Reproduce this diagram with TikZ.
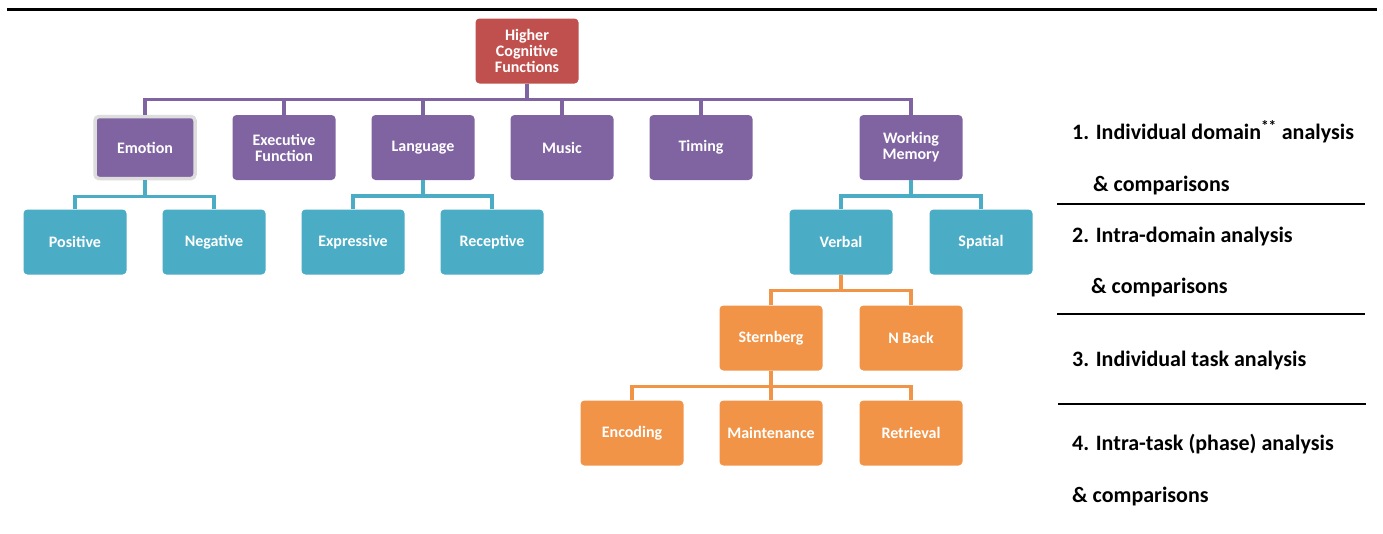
\documentclass[tikz,border=0pt]{standalone}
\usepackage{fontspec}
\setmainfont{Carlito}
\begin{document}
\begin{tikzpicture}[x=1pt,y=-1pt,
  box/.style={rounded corners=4pt, minimum width=103pt, minimum height=65pt, inner sep=2pt,
    text=white, font=\fontsize{16}{16}\selectfont\bfseries, align=center},
  rootbox/.style={box, fill=rootred},
  pbox/.style={box, fill=purp},
  tbox/.style={box, fill=teal2},
  obox/.style={box, fill=orng},
  pline/.style={draw=purp, line width=3.5pt},
  tline/.style={draw=teal2, line width=3.5pt},
  oline/.style={draw=orng, line width=3.5pt},
  rtext/.style={anchor=base west, font=\fontsize{22}{24}\selectfont\bfseries, inner sep=0pt},
  sep/.style={draw=black, line width=1.2pt}
]
\definecolor{rootred}{HTML}{C0504D}
\definecolor{purp}{HTML}{8064A2}
\definecolor{teal2}{HTML}{4BACC6}
\definecolor{orng}{HTML}{F29447}
\definecolor{lgray}{HTML}{DDDDDD}
\useasboundingbox (0,0) rectangle (1383,533);
\fill[white] (0,0) rectangle (1383,533);
\draw[line width=3pt] (7,9) coordinate (tl) -- (1377,9) coordinate (tr);

\node[rootbox] (root) at (527,51) {Higher\\Cognitive\\Functions};

\node[pbox, draw=lgray, line width=3.5pt, minimum width=100pt, minimum height=62pt] (emo) at (145,147.5) {Emotion};
\node[pbox] (exe) at (284,147.5) {Executive\\Function};
\node[pbox] (lang) at (423,147.5) {Language};
\node[pbox] (mus) at (562,147.5) {Music};
\node[pbox] (tim) at (701,147.5) {Timing};
\node[pbox] (wm) at (911,147.5) {Working\\Memory};

\node[tbox] (pos) at (75,242) {Positive};
\node[tbox] (neg) at (214,242) {Negative};
\node[tbox] (expr) at (353,242) {Expressive};
\node[tbox] (rec) at (492,242) {Receptive};
\node[tbox] (verb) at (841,242) {Verbal};
\node[tbox] (spa) at (981,242) {Spatial};

\node[obox] (stb) at (771,338) {Sternberg};
\node[obox] (nb) at (911,338) {N Back};

\node[obox] (enc) at (632,433) {Encoding};
\node[obox] (mai) at (771,433) {Maintenance};
\node[obox] (ret) at (911,433) {Retrieval};

\foreach \c in {emo,exe,lang,mus,tim,wm}
  \draw[pline] (root.south) -- ++(0,16) -| (\c.north);
\foreach \c in {pos,neg}
  \draw[tline] (emo.south) -- ++(0,16) -| (\c.north);
\foreach \c in {expr,rec}
  \draw[tline] (lang.south) -- ++(0,16) -| (\c.north);
\foreach \c in {verb,spa}
  \draw[tline] (wm.south) -- ++(0,16) -| (\c.north);
\foreach \c in {stb,nb}
  \draw[oline] (verb.south) -- ++(0,16) -| (\c.north);
\foreach \c in {enc,mai,ret}
  \draw[oline] (stb.south) -- ++(0,16) -| (\c.north);

\node[rtext] (t1) at (1072,139) {1. Individual domain\textsuperscript{**} analysis};
\node[rtext] (t1b) at (1093,191) {\& comparisons};
\draw[sep] (1057,204) coordinate (s1a) -- (1365,204) coordinate (s1b);
\node[rtext] (t2) at (1072,242) {2. Intra-domain analysis};
\node[rtext] (t2b) at (1091,293) {\& comparisons};
\draw[sep] (1057,314) coordinate (s2a) -- (1365,314) coordinate (s2b);
\node[rtext] (t3) at (1072,366) {3. Individual task analysis};
\draw[sep] (1058,404) coordinate (s3a) -- (1366,404) coordinate (s3b);
\node[rtext] (t4) at (1072,450) {4. Intra-task (phase) analysis};
\node[rtext] (t4b) at (1072,502) {\& comparisons};
\end{tikzpicture}
\end{document}
